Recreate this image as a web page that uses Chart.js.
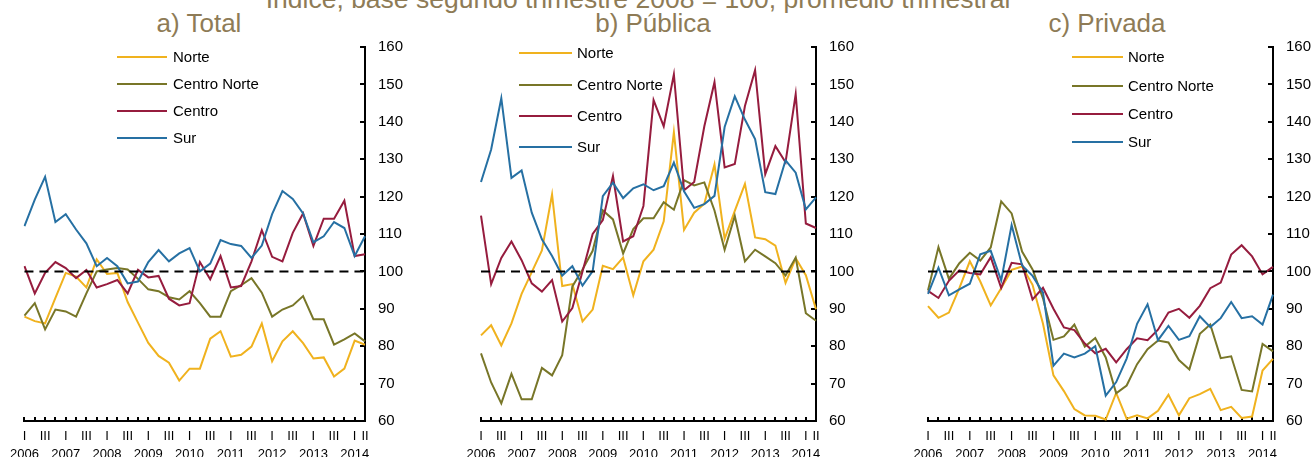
<!DOCTYPE html>
<html>
<head>
<meta charset="utf-8">
<script src="https://cdn.jsdelivr.net/npm/chart.js@4.4.1/dist/chart.umd.min.js"></script>
<style>
  body { margin: 0; width: 1315px; height: 457px; overflow: hidden; background: #fff; position: relative; font-family: "Liberation Sans", Arial, sans-serif; }
  .panel { position: absolute; top: 0; height: 457px; }
  .ttl { position: absolute; color: #8e7b56; font-size: 26px; line-height: 26px; white-space: nowrap; transform: translateX(-50%); }
  .leg-line { position: absolute; height: 2px; }
  .leg-text { position: absolute; font-size: 15px; line-height: 18px; color: #000; white-space: nowrap; }
</style>
</head>
<body>
<div class="ttl" style="left:638px;top:-14px;font-size:26.5px;line-height:26.5px">Índice, base segundo trimestre 2008 = 100, promedio trimestral</div>
<div class="ttl" style="left:199px;top:10px">a) Total</div>
<div class="ttl" style="left:653px;top:10px">b) Pública</div>
<div class="ttl" style="left:1107px;top:10px">c) Privada</div>

<div class="panel" style="left:0;width:440px"><canvas id="chartA" width="440" height="457"></canvas></div>
<div class="panel" style="left:440px;width:440px"><canvas id="chartB" width="440" height="457"></canvas></div>
<div class="panel" style="left:880px;width:435px"><canvas id="chartC" width="435" height="457"></canvas></div>

<script>
// ejes
const years = ['2006', '2007', '2008', '2009', '2010', '2011', '2012', '2013', '2014'];
const quarterNames = ['I', 'II', 'III', 'IV'];
const baseValue = 100;

const seriesNames = ['Norte', 'Centro Norte', 'Centro', 'Sur'];
const seriesColors = ['#f0b21e', '#787628', '#961c3e', '#2670a3'];

// a) Total
const totalNorte = [87.9, 86.7, 86.1, 92.9, 99.6, 98.6, 95.7, 103.2, 99.3, 99.6, 91.8, 86.3, 80.9, 77.4, 75.6, 70.8, 74.0, 74.0, 82.0, 84.0, 77.2, 77.7, 79.9, 86.1, 76.0, 81.3, 84.0, 80.8, 76.7, 77.0, 71.9, 74.0, 81.5, 80.4];
const totalCentroNorte = [88.2, 91.5, 84.5, 89.8, 89.3, 87.9, 94.1, 100.0, 100.5, 100.9, 100.5, 98.0, 95.2, 94.7, 93.1, 92.5, 94.7, 91.5, 87.9, 87.9, 94.7, 96.3, 98.2, 94.3, 87.9, 89.8, 90.9, 93.4, 87.2, 87.2, 80.4, 81.8, 83.4, 81.3];
const totalCentro = [101.4, 94.1, 99.6, 102.5, 100.9, 98.2, 100.4, 95.7, 96.6, 97.7, 94.1, 100.4, 98.4, 98.8, 92.7, 90.9, 91.5, 102.5, 97.9, 104.1, 95.7, 96.1, 102.7, 111.0, 103.9, 102.7, 110.3, 115.5, 106.8, 114.1, 114.1, 118.9, 104.1, 104.6];
const totalSur = [112.1, 119.2, 125.3, 113.2, 115.3, 111.2, 107.5, 101.4, 103.6, 101.4, 96.8, 97.3, 102.5, 105.7, 102.7, 104.8, 106.2, 100.0, 102.1, 108.4, 107.3, 106.8, 103.6, 106.9, 115.3, 121.5, 119.4, 115.5, 107.8, 109.4, 113.2, 111.6, 104.1, 109.4];

// b) Pública
const publicaNorte = [82.9, 85.6, 80.2, 86.1, 94.0, 99.8, 105.6, 120.6, 96.1, 96.6, 86.6, 89.8, 101.5, 100.6, 103.7, 93.6, 102.7, 105.8, 113.4, 137.2, 111.1, 115.7, 118.1, 128.6, 108.7, 116.2, 123.4, 109.1, 108.6, 106.9, 96.9, 103.5, 99.0, 89.9];
const publicaCentroNorte = [78.1, 70.3, 64.7, 72.6, 65.8, 65.8, 74.2, 72.2, 77.6, 96.0, 100.5, 105.5, 116.3, 113.9, 104.8, 111.3, 114.2, 114.2, 118.5, 116.5, 124.4, 123.0, 123.8, 116.3, 105.8, 114.8, 102.7, 105.8, 104.0, 102.2, 98.9, 103.7, 88.8, 86.8];
const publicaCentro = [114.9, 96.6, 103.6, 108.0, 103.0, 96.8, 94.6, 97.7, 86.6, 90.2, 100.0, 110.0, 113.7, 125.5, 108.0, 109.4, 117.5, 145.8, 138.8, 152.7, 121.7, 123.9, 138.8, 150.6, 127.8, 128.7, 144.2, 153.8, 126.0, 133.5, 129.2, 147.4, 112.8, 111.6];
const publicaSur = [123.9, 132.6, 146.3, 125.0, 127.0, 115.7, 108.6, 104.1, 98.9, 101.4, 96.2, 100.1, 120.1, 123.7, 119.6, 122.2, 123.3, 121.7, 122.8, 129.1, 121.4, 117.0, 118.0, 120.2, 138.6, 146.8, 140.6, 135.4, 121.2, 120.7, 129.7, 126.4, 116.6, 119.8];

// c) Privada
const privadaNorte = [90.7, 87.6, 89.0, 95.5, 102.7, 97.3, 90.9, 95.5, 100.4, 101.3, 96.4, 86.0, 72.2, 68.0, 63.2, 61.5, 61.4, 60.4, 67.5, 60.6, 61.5, 60.7, 62.7, 67.0, 61.5, 66.1, 67.2, 68.6, 62.9, 63.8, 60.8, 61.2, 73.5, 76.6];
const privadaCentroNorte = [94.9, 106.5, 98.0, 102.2, 105.0, 102.9, 106.4, 118.7, 115.5, 105.3, 100.5, 92.8, 81.7, 82.6, 85.8, 79.9, 82.2, 77.0, 67.4, 69.5, 75.2, 79.2, 81.5, 81.0, 76.3, 73.8, 83.3, 85.8, 76.8, 77.3, 68.3, 67.9, 80.6, 78.6];
const privadaCentro = [94.8, 92.9, 97.5, 100.3, 99.6, 99.2, 103.8, 95.6, 102.3, 101.9, 92.5, 95.6, 90.0, 85.0, 84.3, 80.7, 78.1, 79.3, 75.7, 79.2, 82.1, 81.6, 84.4, 89.0, 90.0, 87.6, 90.8, 95.5, 97.0, 104.5, 107.0, 104.0, 99.2, 101.2];
const privadaSur = [94.0, 101.0, 93.6, 95.2, 96.7, 104.6, 105.5, 97.6, 112.4, 101.6, 98.8, 94.3, 74.8, 78.0, 77.0, 78.0, 80.0, 66.8, 70.4, 76.7, 86.0, 91.2, 81.6, 85.4, 81.7, 82.7, 88.0, 85.1, 87.5, 91.8, 87.5, 88.0, 85.8, 93.8];

// etiquetas trimestrales: 2006 I ... 2014 II
const quarterLabels = [];
years.forEach(function (y) {
    const n = (y === '2014') ? 2 : 4;
    for (let q = 0; q < n; q++) quarterLabels.push([quarterNames[q], y]);
});

// linea punteada en base 100
const baseLinePlugin = {
    id: 'baseLine',
    afterDatasetsDraw(chart) {
        const ctx = chart.ctx;
        const area = chart.chartArea;
        const y = chart.scales.y.getPixelForValue(baseValue);
        ctx.save();
        ctx.strokeStyle = '#000';
        ctx.lineWidth = 2;
        ctx.setLineDash([9, 6]);
        ctx.beginPath();
        ctx.moveTo(area.left, y);
        ctx.lineTo(area.right, y);
        ctx.stroke();
        ctx.restore();
    }
};

function makeChart(id, values, padLeft, padRight, axisWidth) {
    const datasets = values.map(function (v, i) {
        return {
            label: seriesNames[i],
            data: v,
            borderColor: seriesColors[i],
            backgroundColor: seriesColors[i],
            borderWidth: 2,
            pointRadius: 0,
            tension: 0,
            order: values.length - i
        };
    });
    return new Chart(document.getElementById(id), {
        type: 'line',
        data: { labels: quarterLabels, datasets: datasets },
        plugins: [baseLinePlugin],
        options: {
            responsive: false,
            devicePixelRatio: 1,
            animation: false,
            layout: { padding: { left: padLeft, right: padRight, top: 47, bottom: 0 } },
            plugins: { legend: { display: false }, title: { display: false }, tooltip: { enabled: false } },
            scales: {
                x: {
                    offset: false,
                    border: { color: '#000', width: 2 },
                    grid: { drawOnChartArea: false, drawTicks: true, tickLength: -4, color: '#000', lineWidth: 2 },
                    ticks: {
                        autoSkip: false,
                        maxRotation: 0,
                        padding: 10,
                        color: '#000',
                        font: { family: '"Liberation Sans", Arial, sans-serif', size: 13, lineHeight: 1.4 },
                        callback: function (val, idx) {
                            const lab = quarterLabels[idx];
                            if (idx === quarterLabels.length - 1) return lab[0];
                            if (lab[0] === 'I') return lab;
                            if (lab[0] === 'III') return lab[0];
                            return '';
                        }
                    },
                    afterFit: function (s) { s.height = 36; }
                },
                y: {
                    position: 'right',
                    min: 60,
                    max: 160,
                    border: { color: '#000', width: 2 },
                    grid: { drawOnChartArea: false, drawTicks: true, tickLength: -5, color: '#000', lineWidth: 2 },
                    ticks: {
                        stepSize: 10,
                        padding: 18,
                        color: '#000',
                        font: { family: '"Liberation Sans", Arial, sans-serif', size: 15 }
                    },
                    afterFit: function (s) { s.width = axisWidth; }
                }
            }
        }
    });
}

makeChart('chartA', [totalNorte, totalCentroNorte, totalCentro, totalSur], 22, 30, 45);
makeChart('chartB', [publicaNorte, publicaCentroNorte, publicaCentro, publicaSur], 41, 19, 45);
makeChart('chartC', [privadaNorte, privadaCentroNorte, privadaCentro, privadaSur], 48, 0, 42);

// leyendas
function addLegend(lineLeft, lineRight, textLeft, rowsY) {
    seriesNames.forEach(function (name, i) {
        const ln = document.createElement('div');
        ln.className = 'leg-line';
        ln.style.left = lineLeft + 'px';
        ln.style.width = (lineRight - lineLeft) + 'px';
        ln.style.top = (rowsY[i] - 1) + 'px';
        ln.style.background = seriesColors[i];
        document.body.appendChild(ln);
        const tx = document.createElement('div');
        tx.className = 'leg-text';
        tx.style.left = textLeft + 'px';
        tx.style.top = (rowsY[i] - 9) + 'px';
        tx.textContent = name;
        document.body.appendChild(tx);
    });
}
addLegend(117, 167, 173, [57, 84, 111, 138]);
addLegend(519, 572, 577, [53, 85, 116, 147]);
addLegend(1072, 1123, 1128, [57, 86, 114, 142]);
</script>
</body>
</html>
